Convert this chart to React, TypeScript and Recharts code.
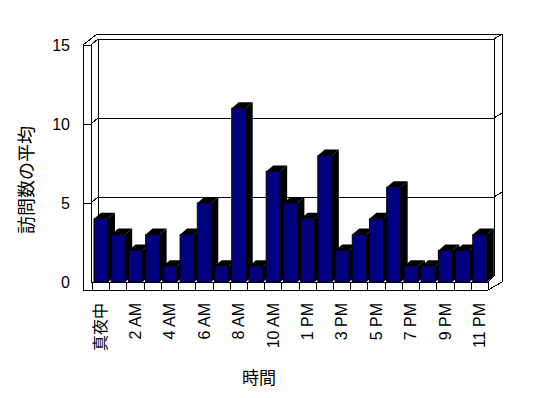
import React from "react";
import { BarChart, Bar, XAxis, YAxis } from "recharts";

const hours = [
  "真夜中", "1 AM", "2 AM", "3 AM", "4 AM", "5 AM", "6 AM", "7 AM", "8 AM", "9 AM", "10 AM", "11 AM",
  "1 PM", "2 PM", "3 PM", "4 PM", "5 PM", "6 PM", "7 PM", "8 PM", "9 PM", "10 PM", "11 PM",
];
const visits = [4, 3, 2, 3, 1, 3, 5, 1, 11, 1, 7, 5, 4, 8, 2, 3, 4, 6, 1, 1, 2, 2, 3];
const yTicks = [0, 5, 10, 15];

const data = hours.map((hour, i) => ({ hour, visits: visits[i] }));

const W = 548;
const H = 398;
// front plane of the plot
const PL = 92;
const PR = 488;
const PT = 45;
const PB = 282;
const DX = 7;
const DY = 6;
const FONT = "'Liberation Sans', Arial, 'Noto Sans CJK JP', sans-serif";
const JP_FONT = "'Noto Sans CJK JP', sans-serif";

const yFront = (v: number) => PB - (v / 15) * (PB - PT);

function Bar3D(props: any) {
  const { x, y, width, height } = props;
  if (!height || height <= 0) return null;
  const top = `${x},${y} ${x + DX},${y - DY} ${x + width + DX},${y - DY} ${x + width},${y}`;
  const side = `${x + width},${y} ${x + width + DX},${y - DY} ${x + width + DX},${y + height - DY} ${x + width},${y + height}`;
  return (
    <g>
      <polygon points={top} fill="#000" />
      <polygon points={side} fill="#000" />
      <rect x={x} y={y} width={width} height={height} fill="#000080" stroke="#000" strokeWidth={1} />
    </g>
  );
}

function HourTick(props: any) {
  const { x, y, payload } = props;
  const ty = y + 13;
  return (
    <text
      x={x}
      y={ty}
      dy="0.36em"
      transform={`rotate(-90, ${x}, ${ty})`}
      textAnchor="end"
      fontSize={16}
      fontFamily={FONT}
      style={{ fill: "#000" }}
    >
      {payload.value}
    </text>
  );
}

function Frame() {
  const band = (PR - PL) / hours.length;
  const line = (x1: number, y1: number, x2: number, y2: number, k: string) => (
    <line key={k} x1={x1} y1={y1} x2={x2} y2={y2} stroke="#000" strokeWidth={1} shapeRendering="crispEdges" />
  );
  const lines: React.ReactNode[] = [];
  // left wall
  lines.push(line(83, 45, 83, 290, "lw1"));
  lines.push(line(91, 45, 91, PB, "lw2"));
  lines.push(line(83, 45, 91, 45, "lw3"));
  lines.push(line(83, 45, 97, 34, "lw4"));
  lines.push(line(91, 45, 98, 39, "lw5"));
  // back wall
  lines.push(line(97, 34, 502, 34, "bw1"));
  lines.push(line(98, 39, 494, 39, "bw2"));
  lines.push(line(98, 39, 98, PB - DY, "bw3"));
  lines.push(line(494, 39, 494, PB - DY, "bw4"));
  lines.push(line(502, 34, 502, PB, "bw5"));
  lines.push(line(494, 39, 502, 34, "bw6"));
  // floor
  lines.push(line(83, 290, PR, 290, "f1"));
  lines.push(line(PR, 290, 502, PB, "f2"));
  lines.push(line(91, PB, PR, PB, "f3"));
  lines.push(line(PR, PB, 494, PB - DY, "f4"));
  for (let i = 0; i <= hours.length; i++) {
    const fx = Math.round(PL + i * band);
    lines.push(line(fx, PB, fx, 290, `fd${i}`));
  }
  // gridlines on back wall
  yTicks
    .filter((t) => t > 0 && t < 15)
    .forEach((t) => {
      const yf = Math.round(yFront(t));
      const yb = yf - DY;
      lines.push(line(83, yf, 91, yf, `g1${t}`));
      lines.push(line(91, yf, 98, yb, `g2${t}`));
      lines.push(line(98, yb, 494, yb, `g3${t}`));
      lines.push(line(494, yb, 502, yb - 5, `g4${t}`));
    });
  return (
    <svg width={W} height={H} style={{ position: "absolute", left: 0, top: 0 }}>
      <rect x={0} y={0} width={W} height={H} fill="#fff" />
      {lines}
      <text
        x={27}
        y={180}
        transform="rotate(-90, 27, 180)"
        textAnchor="middle"
        dy="0.35em"
        fontSize={18}
        fontFamily={JP_FONT}
        fill="#000"
      >
        訪問数の平均
      </text>
      <text x={259} y={378} textAnchor="middle" dy="0.35em" fontSize={17} fontFamily={JP_FONT} fill="#000">
        時間
      </text>
    </svg>
  );
}

export default function App() {
  return (
    <div style={{ position: "absolute", left: 0, top: 0, width: W, height: H, background: "#fff" }}>
      <Frame />
      <div style={{ position: "absolute", left: 0, top: 0 }}>
        <BarChart width={W} height={H} data={data} margin={{ top: PT, right: W - PR, bottom: 36, left: PL - 60 }}>
          <XAxis
            dataKey="hour"
            height={80}
            interval={1}
            axisLine={false}
            tickLine={false}
            tick={<HourTick />}
          />
          <YAxis
            width={60}
            domain={[0, 15]}
            ticks={yTicks}
            axisLine={false}
            tickLine={false}
            tickMargin={16}
            tick={{ fontSize: 16, fill: "#000", fontFamily: FONT }}
          />
          <Bar dataKey="visits" barSize={14} shape={<Bar3D />} isAnimationActive={false} />
        </BarChart>
      </div>
    </div>
  );
}
